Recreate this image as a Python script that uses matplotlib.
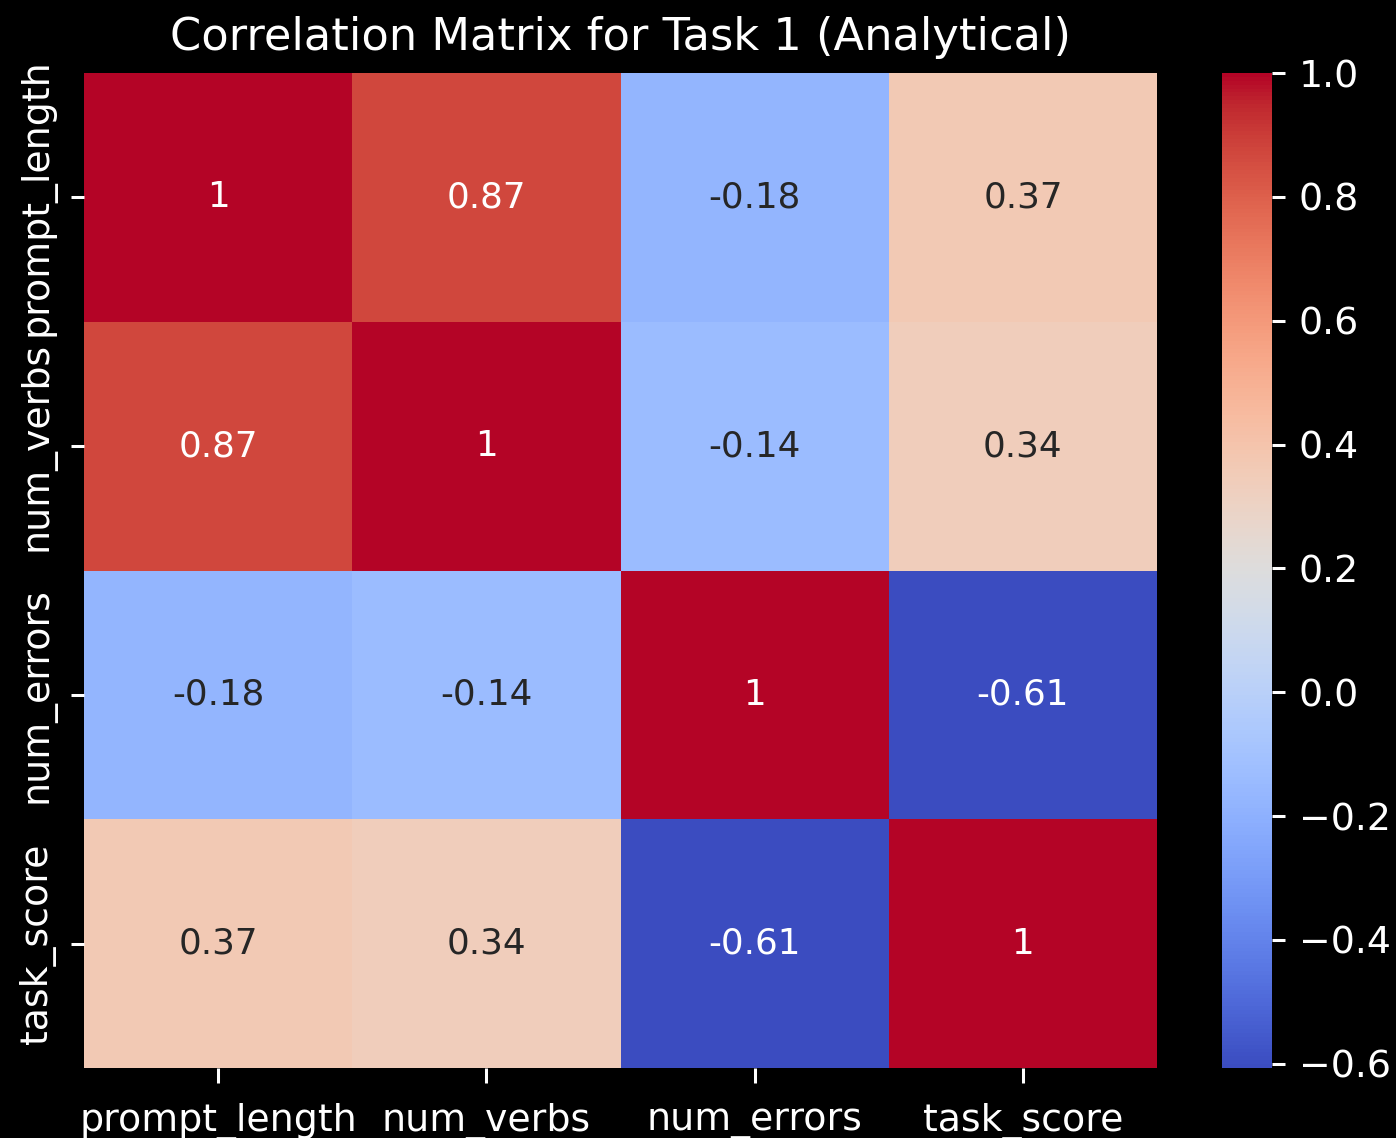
import matplotlib.pyplot as plt
import seaborn as sns
import numpy as np
import pandas as pd

# variables in the task 1 correlation matrix
features = ["prompt_length", "num_verbs", "num_errors", "task_score"]

# pairwise correlations (upper triangle rows)
r_length_verbs = 0.87
r_length_errors = -0.178
r_length_score = 0.37
r_verbs_errors = -0.142
r_verbs_score = 0.34
r_errors_score = -0.607

corr = pd.DataFrame(
    [[1.0, r_length_verbs, r_length_errors, r_length_score],
     [r_length_verbs, 1.0, r_verbs_errors, r_verbs_score],
     [r_length_errors, r_verbs_errors, 1.0, r_errors_score],
     [r_length_score, r_verbs_score, r_errors_score, 1.0]],
    index=features, columns=features)

plt.style.use("dark_background")
scale = 1.25
plt.rcParams.update({
    "font.size": 10 * scale,
    "xtick.major.size": 5,
    "ytick.major.size": 3.5 * scale,
    "xtick.major.pad": 6.5,
    "ytick.major.pad": 5,
    "xtick.major.width": 0.8 * scale,
    "ytick.major.width": 0.8 * scale,
})

fig = plt.figure(figsize=(1396 / 218, 1138 / 218), dpi=218)
ax = fig.add_axes([0.0602, 0.0615, 0.7686, 0.8743])
cax = fig.add_axes([0.8754, 0.0615, 0.0358, 0.8743])

sns.heatmap(corr, annot=True, cmap="coolwarm", ax=ax, cbar_ax=cax,
            annot_kws={"fontsize": 11.8})
ax.set_title("Correlation Matrix for Task 1 (Analytical)", fontsize=14.8,
             pad=6 * scale)
cax.tick_params(length=3.5 * scale, pad=3.5 * scale)

fig.savefig("out.png", dpi=218, facecolor="black")
